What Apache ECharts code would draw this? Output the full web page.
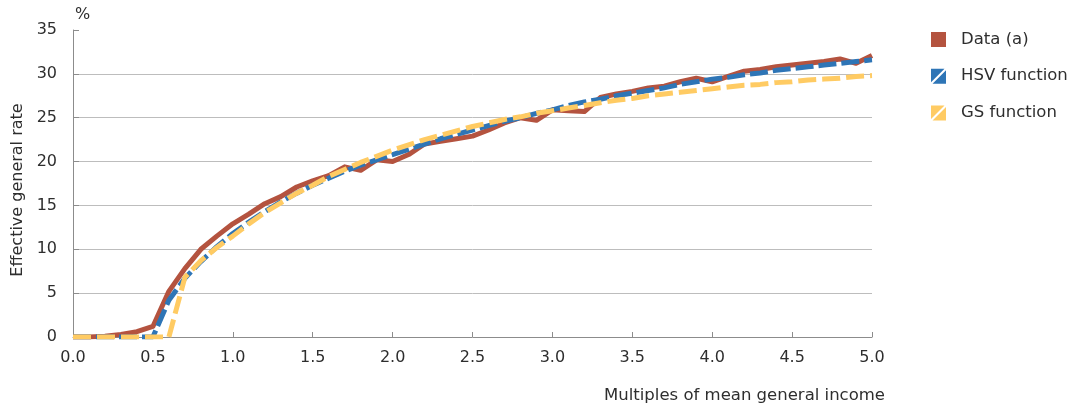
<!DOCTYPE html>
<html>
<head>
<meta charset="utf-8">
<script src="https://cdn.jsdelivr.net/npm/echarts@6/dist/echarts.min.js"></script>
<style>
  html, body { margin: 0; padding: 0; background: #ffffff; }
  #chart { width: 1074px; height: 410px; }
</style>
</head>
<body>
<div id="chart"></div>
<script>
// Income expressed as multiples of mean general income
const incomeMultiples = [
  0.0, 0.1, 0.2, 0.3, 0.4, 0.5, 0.6, 0.7, 0.8, 0.9,
  1.0, 1.1, 1.2, 1.3, 1.4, 1.5, 1.6, 1.7, 1.8, 1.9,
  2.0, 2.1, 2.2, 2.3, 2.4, 2.5, 2.6, 2.7, 2.8, 2.9,
  3.0, 3.1, 3.2, 3.3, 3.4, 3.5, 3.6, 3.7, 3.8, 3.9,
  4.0, 4.1, 4.2, 4.3, 4.4, 4.5, 4.6, 4.7, 4.8, 4.9,
  5.0
];

// Effective general rate, %
const dataRate = [
  0, 0, 0.1, 0.3, 0.6, 1.2, 5.2, 7.8, 10.0, 11.5,
  12.9, 14.0, 15.2, 16.0, 17.1, 17.8, 18.4, 19.4, 19.0, 20.2,
  20.0, 20.8, 22.0, 22.3, 22.6, 22.9, 23.6, 24.4, 25.0, 24.7,
  25.9, 25.8, 25.7, 27.3, 27.7, 28.0, 28.4, 28.6, 29.1, 29.5,
  29.1, 29.7, 30.3, 30.5, 30.8, 31.0, 31.2, 31.4, 31.7, 31.2,
  32.1
];

const hsvRate = [
  0, 0, 0, 0, 0, 0, 4.2, 6.7, 8.6, 10.3,
  11.8, 13.1, 14.3, 15.4, 16.4, 17.3, 18.1, 18.9, 19.6, 20.2,
  20.8, 21.4, 22.0, 22.6, 23.1, 23.6, 24.1, 24.6, 25.0, 25.5,
  25.9, 26.4, 26.8, 27.1, 27.5, 27.8, 28.1, 28.4, 28.8, 29.1,
  29.4, 29.6, 29.9, 30.1, 30.4, 30.6, 30.8, 31.0, 31.2, 31.4,
  31.6
];

const gsRate = [
  0, 0, 0, 0, 0, 0, 0, 6.8, 8.7, 10.2,
  11.5, 12.9, 14.2, 15.3, 16.4, 17.3, 18.3, 19.1, 19.9, 20.6,
  21.3, 21.9, 22.5, 23.0, 23.5, 24.0, 24.4, 24.8, 25.1, 25.5,
  25.8, 26.1, 26.4, 26.7, 27.0, 27.2, 27.5, 27.7, 27.9, 28.1,
  28.3, 28.5, 28.7, 28.8, 29.0, 29.1, 29.3, 29.4, 29.5, 29.7,
  29.8
];

const seriesNames = ['Data (a)', 'HSV function', 'GS function'];
const xTicks = { min: 0, max: 5, step: 0.5 };
const yTicks = { min: 0, max: 35, step: 5 };

const FONT = 'DejaVu Sans';
const TEXT = '#2e2e2e';
const RED = '#B4533F';
const BLUE = '#2E75B6';
const YELLOW = '#FFCB63';

// square split by a thin white diagonal
const splitSquare = 'path://M0,0 L18,0 L0,18 Z M20,2 L20,20 L2,20 Z';

function pairs(ys) {
  return incomeMultiples.map((x, i) => [x, ys[i]]);
}

const chart = echarts.init(document.getElementById('chart'), null, { renderer: 'canvas' });

chart.setOption({
  animation: false,
  backgroundColor: '#ffffff',
  grid: { left: 73, right: 202, top: 30, bottom: 73, containLabel: false },
  legend: {
    orient: 'vertical',
    left: 931,
    top: 31,
    padding: 0,
    itemWidth: 15,
    itemHeight: 15,
    itemGap: 19.7,
    itemStyle: { borderWidth: 0 },
    textStyle: { fontFamily: FONT, fontSize: 16.5, color: TEXT, padding: [0, 0, 0, 10] },
    data: [
      { name: seriesNames[0], icon: 'rect' },
      { name: seriesNames[1], icon: splitSquare },
      { name: seriesNames[2], icon: splitSquare }
    ]
  },
  xAxis: {
    type: 'value',
    min: xTicks.min,
    max: xTicks.max,
    interval: xTicks.step,
    axisLine: { lineStyle: { color: '#8c8c8c', width: 1 } },
    axisTick: { inside: true, length: 5, lineStyle: { color: '#8c8c8c' } },
    axisLabel: {
      margin: 13,
      fontFamily: FONT,
      fontSize: 16,
      color: TEXT,
      formatter: v => v.toFixed(1)
    },
    splitLine: { show: false }
  },
  yAxis: {
    type: 'value',
    min: yTicks.min,
    max: yTicks.max,
    interval: yTicks.step,
    axisLine: { show: true, lineStyle: { color: '#8c8c8c', width: 1 } },
    axisTick: { show: true, inside: true, length: 6, lineStyle: { color: '#8c8c8c' } },
    axisLabel: { margin: 16, fontFamily: FONT, fontSize: 16, color: TEXT },
    splitLine: {
      show: true,
      showMinLine: false,
      showMaxLine: false,
      lineStyle: { color: '#bdbdbd', width: 1 }
    }
  },
  graphic: [
    {
      type: 'text', left: 75, top: 7,
      style: { text: '%', fontFamily: FONT, fontSize: 16, fill: TEXT }
    },
    {
      type: 'text', x: 18, y: 190, rotation: Math.PI / 2,
      style: {
        text: 'Effective general rate', fontFamily: FONT, fontSize: 16, fill: TEXT,
        align: 'center', verticalAlign: 'middle'
      }
    },
    {
      type: 'text', x: 885, y: 396,
      style: {
        text: 'Multiples of mean general income', fontFamily: FONT, fontSize: 16.5, fill: TEXT,
        align: 'right', verticalAlign: 'middle'
      }
    }
  ],
  series: [
    {
      name: seriesNames[0],
      type: 'line',
      data: pairs(dataRate),
      symbol: 'none',
      color: RED,
      lineStyle: { color: RED, width: 5, join: 'round', cap: 'butt' },
      z: 2
    },
    {
      name: seriesNames[1],
      type: 'line',
      data: pairs(hsvRate),
      symbol: 'none',
      color: BLUE,
      lineStyle: { color: BLUE, width: 5, type: [18, 5], cap: 'butt' },
      z: 3
    },
    {
      name: seriesNames[2],
      type: 'line',
      data: pairs(gsRate),
      symbol: 'none',
      color: YELLOW,
      lineStyle: { color: YELLOW, width: 5, type: [18, 6], cap: 'butt' },
      z: 4
    }
  ]
});
</script>
</body>
</html>
